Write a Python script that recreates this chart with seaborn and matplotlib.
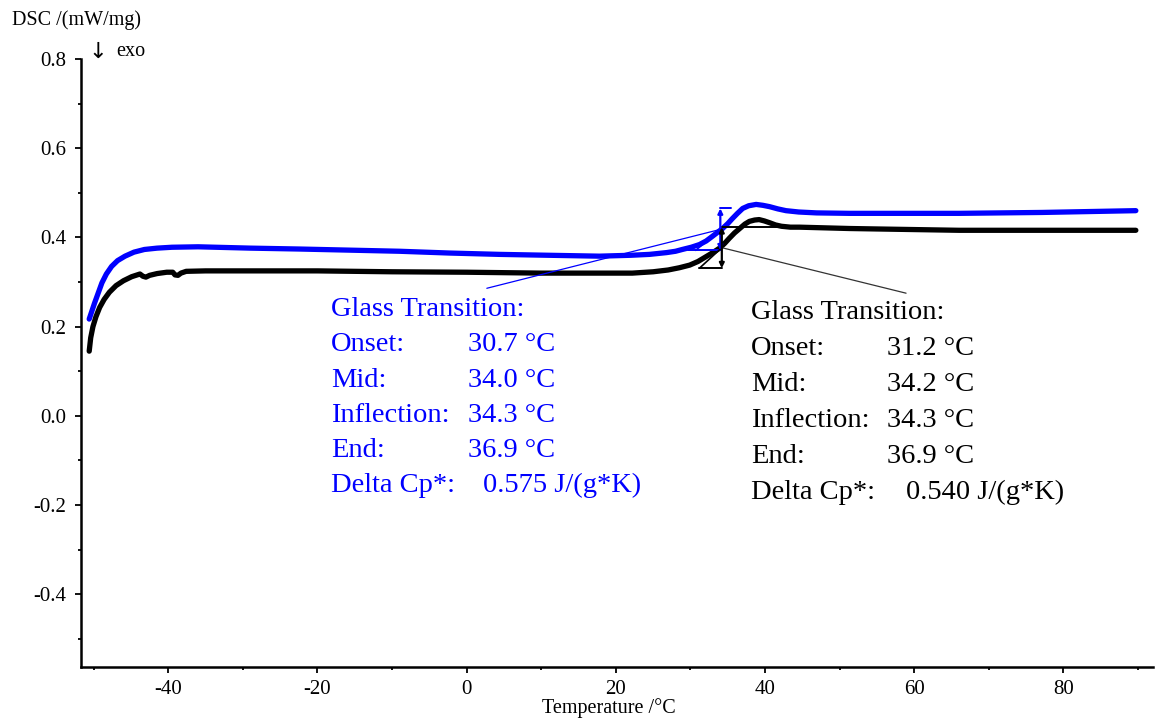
import numpy as np
import pandas as pd
import matplotlib
matplotlib.use("Agg")
import matplotlib.pyplot as plt
import seaborn as sns

# --- DSC heat-flow traces (temperature in °C, DSC in mW/mg) ---
blue_temp = [-50.6, -50.3, -49.9, -49.4, -48.9, -48.3, -47.6, -46.8, -45.8, -44.6,
             -43.2, -41.5, -39.5, -36.0, -29.0, -22.4, -9.0, -2.3, 4.4, 11.0,
             17.8, 22.0, 24.5, 26.8, 28.0, 28.9, 30.1, 31.2, 32.1, 32.9, 33.6,
             34.3, 35.0, 35.6, 36.3, 37.0, 37.8, 38.8, 39.7, 40.6, 41.7, 42.8,
             44.5, 46.9, 51.3, 66.0, 77.1, 89.7]
blue_dsc = [0.217, 0.232, 0.252, 0.275, 0.298, 0.318, 0.335, 0.348, 0.358, 0.367,
            0.373, 0.376, 0.378, 0.379, 0.376, 0.374, 0.369, 0.365, 0.362, 0.360,
            0.358, 0.360, 0.362, 0.366, 0.369, 0.373, 0.378, 0.384, 0.392, 0.402, 0.411,
            0.420, 0.431, 0.442, 0.454, 0.465, 0.471, 0.474, 0.472, 0.469, 0.464, 0.460,
            0.457, 0.455, 0.454, 0.454, 0.456, 0.460]

black_temp = [-50.6, -50.4, -50.1, -49.7, -49.2, -48.6, -47.9, -47.0, -46.0, -44.9,
              -43.8, -43.4, -43.0, -42.5, -41.5, -40.2, -39.4, -39.1, -38.7, -38.3,
              -37.6, -35.0, -30.0, -20.0, -10.0, 0.0, 10.0, 17.8, 22.2, 25.0, 27.0,
              28.5, 29.9, 31.0, 32.1, 33.0, 33.9, 34.6, 35.2, 35.9, 36.6, 37.3, 37.9,
              38.6, 39.2, 39.9, 40.6, 41.4, 42.2, 43.4, 44.6, 51.3, 54.9, 66.0, 89.7]
black_dsc = [0.145, 0.175, 0.200, 0.222, 0.243, 0.261, 0.277, 0.292, 0.303, 0.312,
             0.318, 0.313, 0.311, 0.315, 0.319, 0.322, 0.322, 0.316, 0.315, 0.320,
             0.324, 0.325, 0.325, 0.325, 0.323, 0.322, 0.320, 0.320, 0.320, 0.323, 0.327,
             0.332, 0.338, 0.346, 0.357, 0.366, 0.376, 0.387, 0.398, 0.410, 0.420, 0.430, 0.436,
             0.439, 0.440, 0.437, 0.433, 0.428, 0.425, 0.423, 0.423, 0.420, 0.419, 0.416, 0.416]

# --- glass-transition evaluation (step construction) ---
blue_step = dict(mid=34.0, onset=30.7, low=0.371, high=0.465, top_end=35.4, low_start=29.7)
black_step = dict(mid=34.2, onset=31.2, low=0.331, high=0.423, top_end=42.0, low_start=31.2)

row_names = ["Onset:", "Mid:", "Inflection:", "End:"]
blue_values = ["30.7 °C", "34.0 °C", "34.3 °C", "36.9 °C"]
black_values = ["31.2 °C", "34.2 °C", "34.3 °C", "36.9 °C"]
blue_cp = "0.575 J/(g*K)"
black_cp = "0.540 J/(g*K)"

x_major = [-40, -20, 0, 20, 40, 60, 80]
x_minor = [-50, -30, -10, 10, 30, 50, 70, 90]
y_major = [-0.4, -0.2, 0.0, 0.2, 0.4, 0.6, 0.8]
y_minor = [-0.5, -0.3, -0.1, 0.1, 0.3, 0.5, 0.7]

BLUE = "#0000ff"
BLACK = "#000000"

sns.set_style("ticks")
plt.rcParams["font.family"] = ["Liberation Serif", "DejaVu Serif"]
plt.rcParams["axes.unicode_minus"] = False
for key in ("text.color", "axes.labelcolor", "xtick.color", "ytick.color", "axes.edgecolor"):
    plt.rcParams[key] = "black"

df = pd.concat([
    pd.DataFrame({"T": blue_temp, "DSC": blue_dsc, "run": "blue"}),
    pd.DataFrame({"T": black_temp, "DSC": black_dsc, "run": "black"}),
], ignore_index=True)

fig = plt.figure(figsize=(11.55, 7.22), dpi=100)
ax = fig.add_axes([81 / 1155, 1 - 667 / 722, (1153 - 81) / 1155, (667 - 59) / 722])

sns.lineplot(data=df, x="T", y="DSC", hue="run", palette={"blue": BLUE, "black": BLACK},
             sort=False, estimator=None, linewidth=3.8, legend=False, ax=ax,
             solid_capstyle="round", solid_joinstyle="round")

ax.set_xlim(-51.7, 92)
ax.set_ylim(-0.563, 0.8)
ax.set_xticks(x_major)
ax.set_xticks(x_minor, minor=True)
ax.set_yticks(y_major)
ax.set_yticks(y_minor, minor=True)
ax.set_xticklabels([f"{v:d}" for v in x_major])
ax.set_yticklabels([f"{v:.1f}" for v in y_major])
ax.tick_params(axis="both", which="major", length=4.5, width=1.3, labelsize=15, direction="out")
ax.tick_params(axis="both", which="minor", length=2.5, width=1.3, direction="out")
ax.tick_params(axis="x", which="major", pad=5)
ax.tick_params(axis="y", which="major", pad=6)
for side in ("top", "right"):
    ax.spines[side].set_visible(False)
for side in ("left", "bottom"):
    ax.spines[side].set_linewidth(1.8)
ax.set_xlabel("")
ax.set_ylabel("")


def step_construction(st, color):
    ax.annotate("", xy=(st["mid"], st["high"]), xytext=(st["mid"], st["low"]),
                arrowprops=dict(arrowstyle="<|-|>", color=color, lw=1.6,
                                mutation_scale=7, shrinkA=0, shrinkB=0))
    ax.plot([st["mid"], st["top_end"]], [st["high"], st["high"]], color=color, lw=1.4)
    ax.plot([st["low_start"], st["mid"]], [st["low"], st["low"]], color=color, lw=1.4)
    mid_level = (st["low"] + st["high"]) / 2
    ax.plot([st["onset"], st["mid"]], [st["low"], mid_level], color=color, lw=1.2)
    return mid_level


blue_mid = step_construction(blue_step, BLUE)
black_mid = step_construction(black_step, BLACK)

# leader lines from the evaluated step to each result block
ax.plot([blue_step["mid"], 2.7], [blue_mid, 0.286], color=BLUE, lw=0.9)
ax.plot([black_step["mid"], 58.9], [black_mid, 0.275], color="#333333", lw=0.9)


def result_block(x0, x_val, x_cp, y_base, dy, values, cp, color):
    fs = 20.5
    ax.text(x0, y_base, "Glass Transition:", color=color, fontsize=fs, va="baseline")
    for i, (name, val) in enumerate(zip(row_names, values)):
        y = y_base - (i + 1) * dy
        ax.text(x0, y, name, color=color, fontsize=fs, va="baseline")
        ax.text(x_val, y, val, color=color, fontsize=fs, va="baseline")
    y = y_base - 5 * dy
    ax.text(x0, y, "Delta Cp*:", color=color, fontsize=fs, va="baseline")
    ax.text(x_cp, y, cp, color=color, fontsize=fs, va="baseline")


result_block(-18.2, 0.17, 2.2, (415 - 315) / 447.5, 35.3 / 447.5, blue_values, blue_cp, BLUE)
result_block(38.1, 56.4, 58.9, (415 - 318.3) / 447.5, 36.0 / 447.5, black_values, black_cp, BLACK)

fig.text(12 / 1155, 1 - 20 / 722, "DSC /(mW/mg)", fontsize=14.5, va="center", ha="left")
fig.text(88 / 1155, 1 - 52 / 722, "↓", fontsize=16, va="center", ha="left",
         family=["DejaVu Sans"])
fig.text(116 / 1155, 1 - 52 / 722, "exo", fontsize=14.5, va="center", ha="left")
fig.text(609 / 1155, 1 - 708 / 722, "Temperature /°C", fontsize=14.5, va="center", ha="center")

fig.savefig("out.png", dpi=100, facecolor="white")
